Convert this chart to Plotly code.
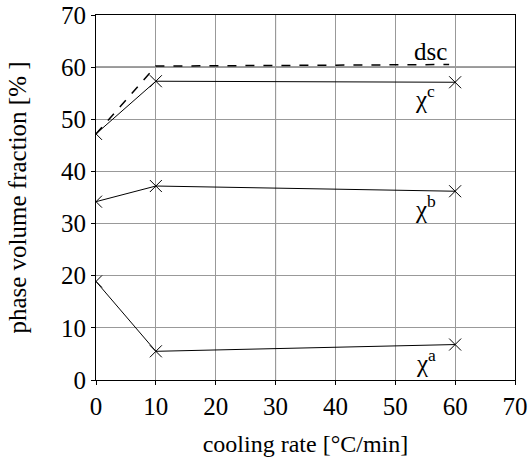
import plotly.graph_objects as go

cooling_rate = [0, 10, 60]
chi_c = [47.2, 57.3, 57.1]
chi_b = [34.2, 37.2, 36.2]
chi_a = [18.9, 5.5, 6.8]
dsc_x = [0, 10, 59]
dsc_y = [47.2, 60.2, 60.5]

labels = [
    ("dsc", 55.8, 63.0),
    ("χ<sup>c</sup>", 55.0, 54.3),
    ("χ<sup>b</sup>", 55.0, 33.2),
    ("χ<sup>a</sup>", 55.2, 3.6),
]

FONT = "Liberation Serif, DejaVu Serif, serif"
fig = go.Figure()
fig.add_trace(go.Scatter(x=dsc_x, y=dsc_y, mode="lines",
                         line=dict(color="black", width=1.5, dash="dash"), showlegend=False))
for ys in (chi_c, chi_b, chi_a):
    fig.add_trace(go.Scatter(x=cooling_rate, y=ys, mode="lines+markers",
                             line=dict(color="black", width=1),
                             marker=dict(symbol="x-thin", size=12,
                                         line=dict(color="black", width=1)),
                             showlegend=False))

for txt, x, y in labels:
    fig.add_annotation(x=x, y=y, text=txt, showarrow=False,
                       font=dict(family=FONT, size=25, color="black"))

# darker reference lines
fig.add_shape(type="line", x0=30, x1=30, y0=0, y1=70, line=dict(color="black", width=1), layer="below")
fig.add_shape(type="line", x0=0, x1=70, y0=60, y1=60, line=dict(color="black", width=1), layer="below")

fig.update_layout(
    width=531, height=459,
    margin=dict(l=96, r=16, t=15, b=79, autoexpand=False),
    paper_bgcolor="white", plot_bgcolor="white",
    font=dict(family=FONT, size=24, color="black"),
    xaxis=dict(range=[0, 70], dtick=10, showgrid=True, gridcolor="#999999", gridwidth=1,
               showline=True, linecolor="black", mirror=True, zeroline=False,
               ticks="outside", ticklen=4, tickcolor="black", automargin=False,
               tickfont=dict(family=FONT, size=25),
               title=dict(text="cooling rate [°C/min]", font=dict(family=FONT, size=24), standoff=16)),
    yaxis=dict(range=[0, 70], dtick=10, showgrid=True, gridcolor="#999999", gridwidth=1,
               showline=True, linecolor="black", mirror=True, zeroline=False,
               ticks="outside", ticklen=4, tickcolor="black", automargin=False,
               tickfont=dict(family=FONT, size=25),
               title=dict(text="phase volume fraction [% ]", font=dict(family=FONT, size=25), standoff=27)),
)
fig.write_html("out.html")
